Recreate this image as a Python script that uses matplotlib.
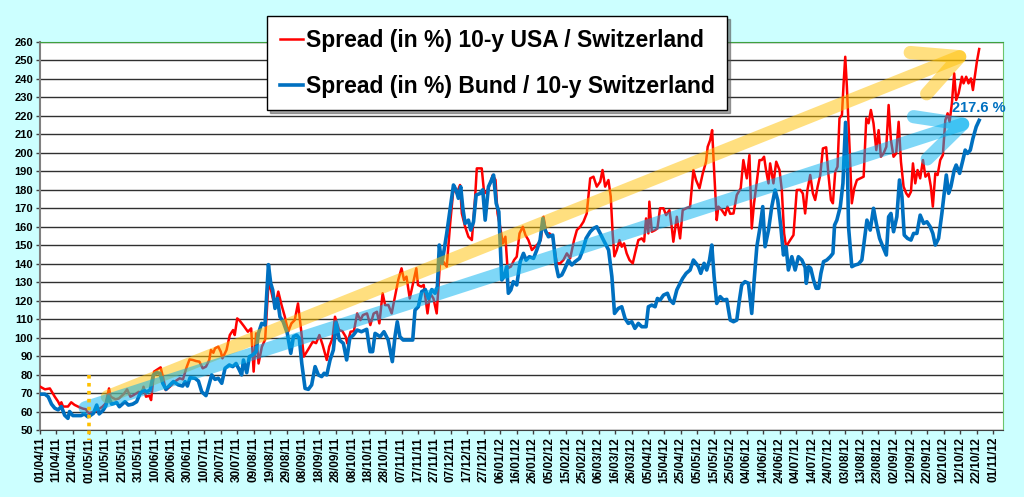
import pandas as pd
import matplotlib.pyplot as plt

plt.rcParams['font.family'] = ['Liberation Sans', 'DejaVu Sans']

# Données (jours depuis le 01/04/2011, spread en points de base)
start = pd.Timestamp('2011-04-01')

red_days = [0, 3, 6, 9, 11, 12, 13, 14, 17, 19, 21, 24, 26, 28, 29, 30, 34, 38, 40, 42,
            43, 46, 48, 51, 53, 55, 57, 60, 62, 63, 64.5, 66.5, 67.6, 69.4, 71, 73.4, 75, 76.5, 79, 82,
            85, 87, 89, 91, 93, 95, 97, 99, 101, 103, 104, 105.5, 106.5, 108.5, 110, 111, 113.5, 115.5, 117.5, 118.5,
            120, 121.5, 124, 126.5, 128.5, 130, 131.5, 133, 135, 137, 139, 140.5, 142, 143, 145, 147, 149, 151, 153, 155,
            157, 159, 160.5, 163, 166, 168, 170, 172, 174.5, 176, 178, 179.5, 182, 184, 186, 187, 189, 191, 193, 195,
            196.5, 199, 201, 203, 205, 206.5, 208.5, 210, 212, 214, 216, 218, 220, 221.5, 223, 225, 227, 229, 230, 232,
            233.5, 235.8, 237.4, 239.4, 241.4, 243.5, 245.5, 247.5, 249.6, 251.6, 253.6, 255.6, 256.7, 258.7, 260.7, 262.8, 264.8, 265.8, 268.8, 270.3,
            271.9, 274, 275.5, 277.2, 278.4, 280, 281.6, 283.2, 284.5, 286.5, 288.5, 290.1, 291.8, 293.8, 295.4, 297.2, 299.3, 301.3, 303.3, 304.7,
            306.4, 308, 310, 312, 314.5, 316.5, 318.5, 320.6, 322.6, 325, 326.7, 328.7, 330.7, 332.7, 334.8, 336.8, 338.8, 340.9, 342.3, 343.9,
            345.9, 347.3, 348.5, 349.5, 351, 352.6, 354, 355.4, 357, 358.7, 360.7, 362.1, 364.1, 366.2, 367.6, 368.8, 370.2, 370.8, 372.3, 374.3,
            375.7, 377.3, 379.4, 381, 383, 384.4, 385.4, 387.5, 389.5, 391.1, 393.2, 395.6, 397.6, 399.2, 401.3, 403.3, 405.3, 406.3, 407.8, 409,
            410.2, 411.8, 412.8, 414.9, 416.9, 418.3, 420, 422, 424, 426.4, 428, 430.1, 431.7, 433.1, 434.5, 436.2, 437.8, 439.2, 440.6, 441.8,
            443.3, 444.3, 446.3, 448, 450, 451.4, 452.8, 454, 456.5, 458.5, 460.5, 462.6, 464.2, 465.6, 467, 468.7, 470.3, 471.7, 473.2, 474.8,
            476.4, 478.4, 479.8, 481.3, 482.5, 483.9, 485.3, 486.5, 488, 489, 490, 491, 492.6, 494, 495.5, 497.1, 499.1, 501.2, 502.8, 504.2,
            505.6, 507.2, 508.9, 510.3, 511.7, 513.3, 515, 516.4, 517.8, 519.4, 521, 522.5, 523.9, 525.5, 527.1, 528.5, 530, 531.2, 532.6, 534,
            535.6, 537.3, 538.8, 540.7, 542.1, 543.3, 544.8, 546.2, 547.8, 549.4, 550.9, 552.3, 553.5, 554.9, 556.3, 557.5, 559, 561, 562, 563.6,
            565, 566.5, 567.7, 569.1, 570.1, 571.5]
red_vals = [73.5, 72, 72.5, 68, 65.4, 63.6, 65, 62.7, 62.7, 65, 63.6, 62.3, 61.6, 61.2, 59.6, 59, 60.3, 62.6, 64.4, 72.5,
            68, 66.6, 67.1, 69.5, 72, 68, 68.9, 70.7, 69.8, 73.4, 68, 68.6, 66.2, 81.6, 82.5, 83.9, 78, 71.6, 73.4, 76.2,
            78, 77.4, 83.4, 88.2, 87.9, 87.3, 87, 83.4, 84.3, 87.9, 93.3, 91.8, 94.2, 95.1, 92.4, 88.8, 93.3, 101.4, 104.1, 101.4,
            110.4, 109.2, 106.3, 103.2, 105, 81.6, 102.3, 86, 95, 99, 129, 126, 120, 116.7, 124.9, 117.6, 111.3, 103.2, 107.7, 109.5,
            118.5, 103.2, 89.7, 93.3, 97.8, 97, 101.4, 96, 87.9, 95.1, 99.6, 111.3, 104.1, 103.5, 100.5, 96.9, 103.2, 103.5, 113.1, 109.5,
            112.2, 113.1, 106.8, 113, 114, 107.7, 124, 117.6, 117.6, 113.1, 122.2, 131.2, 137.5, 131.2, 133, 121.2, 129.4, 137.5, 128.5, 127.6,
            128.5, 113.1, 124, 121.2, 113.1, 142, 141, 138.4, 161.8, 180.8, 178, 182.6, 167.2, 160, 154.6, 152.8, 176.3, 191.6, 191.6, 178,
            179, 183.5, 188, 185.3, 167.2, 160, 151, 154.6, 137.5, 138.4, 142, 143.8, 156.4, 160, 155.5, 152.8, 147.4, 149.2, 151, 152.8,
            165.4, 156.4, 156.4, 154.6, 140.2, 140.2, 142, 145.6, 142.9, 152.8, 158.2, 160, 162.7, 167.2, 186.2, 187.1, 181.7, 184.4, 190.7, 181.7,
            185.3, 176.3, 156, 144, 147.4, 152.8, 149.2, 151, 145.6, 142, 140.2, 145.6, 152.8, 153.7, 152, 164.5, 156.4, 173.6, 157.3, 158.2,
            159.1, 170, 170, 166.3, 169, 160, 151.9, 165.4, 153.7, 169, 170, 170.9, 190.7, 185.3, 180.8, 188.9, 195.2, 203.3, 206.9, 212.3,
            190.7, 163.6, 170.9, 169, 166.3, 170.9, 167, 167.2, 177.2, 180.8, 196.1, 186.2, 198.8, 159.1, 172.7, 184.4, 196.1, 196.1, 197.9, 190.7,
            183.5, 194.3, 183.5, 195.2, 190.7, 179.9, 156.4, 149.2, 152.8, 155.5, 179.9, 180, 178, 167.2, 179.9, 188, 178.1, 174.5, 181.7, 188,
            202.4, 203, 188, 174.5, 172.7, 189.8, 192.5, 218.7, 220.5, 237.6, 252, 235.8, 203.3, 172.7, 180.8, 185.3, 186.2, 187.1, 218.7, 216,
            223.2, 216, 201.5, 212.3, 197.9, 199.7, 203.3, 225.9, 206.9, 197.9, 199.7, 216.8, 195.2, 181.7, 178.1, 176.3, 179, 194.3, 183.5, 190.7,
            186.2, 196.1, 187.1, 188.9, 181.7, 170.9, 188.9, 188, 196.1, 198.8, 217.7, 221.4, 216.8, 226.8, 243, 228.6, 232.2, 241.2, 237.6, 241.2,
            237.6, 240.3, 234, 243, 249.3, 256.2]

blue_days = [0, 3, 5, 7, 9, 11, 13, 15, 17, 18, 20, 23, 25, 27, 29, 30, 32.5, 34.5, 36, 38.5,
             40, 41.6, 43.6, 46.7, 48.3, 51.7, 53.8, 56.4, 58.8, 60.9, 62.9, 64.9, 67, 69, 71, 73, 74.7, 76.7, 79.1, 81.2,
             84.2, 86.8, 88.3, 89.7, 91.3, 94.3, 96.4, 98.4, 101, 102.5, 104.5, 106.5, 108.5, 110.6, 112.6, 115.2, 117.3, 119.3, 121.3, 122.7,
             123.8, 125.8, 127.4, 129.4, 131.5, 132.9, 134.9, 136.9, 139, 140.4, 141.6, 143, 144.5, 146, 148, 150.5, 152.6, 154.2, 156.2, 157.8,
             159.3, 161.3, 163.3, 165.3, 167.4, 169.4, 171.4, 172.9, 174.5, 176.5, 178.5, 180.2, 182.2, 184.6, 186.6, 188.5, 190.7, 193, 195.6, 198.8,
             200.8, 202.4, 203.9, 207, 209.3, 211.9, 214.4, 216, 217.4, 219, 221, 224.1, 226.8, 228.2, 230.2, 232.3, 234.5, 236.4, 238.4, 240.4,
             241.8, 243, 244.5, 245.9, 247.5, 249.6, 251.6, 253.2, 254.6, 256, 257.3, 258.7, 260.7, 262.1, 263.8, 265.4, 267.8, 269.4, 270.9, 272.9,
             274.3, 276, 277.6, 279.2, 281, 282.4, 284, 285, 286.5, 288, 290.1, 292.2, 294.2, 295.8, 297.8, 300.3, 302.3, 304.3, 306, 307.4,
             309.4, 312, 314, 315.5, 317.5, 319, 321.6, 323.6, 325.6, 328.3, 330.3, 332.3, 334.8, 336.8, 338.8, 340.9, 342.9, 346, 348, 349.6,
             351.9, 354, 356, 358, 360.1, 362, 364.1, 366.2, 368.8, 370.2, 372.3, 374.3, 375.7, 377.3, 379.4, 381.8, 383.4, 385.4, 387.5, 389.5,
             391.1, 393.2, 395.6, 397.6, 399.2, 400.7, 402.1, 404.1, 405.7, 407.4, 408.8, 410.2, 411.8, 413.9, 415.9, 417.9, 420, 422, 424, 425.6,
             427, 429, 431.1, 433.1, 434.5, 436.2, 438.2, 439.8, 441.2, 443.3, 445.3, 447.3, 448.9, 450.8, 452.4, 454, 455.4, 457.5, 459.5, 461.5,
             463.6, 465.6, 466.3, 467.7, 469, 470.7, 472.3, 473.8, 475.2, 476.8, 478.8, 480.9, 482.5, 483.5, 484.9, 487, 488.6, 490.2, 491.4, 492,
             494, 496, 498, 500.1, 502.2, 503.2, 505.2, 507.2, 508.9, 510.9, 512.9, 515, 516.4, 517.8, 519.4, 521.4, 523, 524.5, 525.9, 527.9,
             530, 531.6, 533.6, 535.6, 537.7, 539.7, 541.7, 543.3, 544.8, 546.8, 548.8, 550.2, 551.5, 552.9, 554.3, 556.3, 557.5, 559.6, 561.6, 563,
             564.4, 566.1, 567.7, 569.7, 571.5]
blue_vals = [69.4, 69.4, 68, 64, 61.8, 60.9, 62.7, 58, 56.3, 60, 57.8, 57.8, 57.8, 58.7, 57.2, 57.5, 59, 63.5, 58.7, 60.8,
             63, 68, 64, 64.8, 62.6, 65.3, 63.5, 64, 65.3, 69.8, 71.6, 70.7, 71.6, 79.8, 81, 80.7, 75.3, 72, 74.4, 76.2,
             74.4, 73.8, 76.2, 73.8, 78.3, 78, 76.5, 70.7, 68.6, 73.4, 79.8, 77.4, 78, 75.3, 83.4, 85.2, 84.3, 86, 82.5, 79.8,
             87.9, 81, 89.7, 90.6, 92.4, 102.3, 107.7, 106.8, 139.5, 129.4, 125.8, 115.8, 121.2, 111.3, 108.6, 102.3, 91.5, 100.5, 101.4, 99.6,
             86, 72.5, 72, 74.4, 84.3, 79.8, 78.9, 80.7, 79.8, 87.9, 93.3, 108, 98.7, 96.9, 87.9, 99.6, 101.4, 104.1, 103.2, 104.5,
             92.4, 92.4, 102.3, 100.5, 103.2, 98.7, 87, 100.5, 108.6, 100.5, 98.7, 98.7, 98.7, 114.9, 116.7, 124.9, 126, 121.2, 126, 124,
             127.6, 150.1, 140.2, 147.4, 156.4, 170, 182.6, 179.9, 175.4, 181.7, 170, 161.8, 163.6, 158.2, 162.7, 177.2, 178, 180, 163.6, 181.7,
             184.4, 188, 172.7, 168.1, 131.2, 133, 138.4, 124, 125.8, 130.3, 128.5, 141.1, 145.6, 141.9, 143.8, 142.9, 147.4, 152.8, 164.5, 158.2,
             154.6, 155.5, 139.3, 133, 133.9, 136.6, 141.9, 139.3, 141.1, 142.9, 147.4, 153.7, 157.3, 159.1, 160, 156.4, 152.8, 147.4, 133, 113.1,
             115.8, 116.7, 110.4, 107.7, 108.6, 105, 107.7, 105.9, 105.9, 116.7, 117.6, 116.7, 121.2, 120.3, 123, 124, 120.3, 118.5, 125.8, 129.4,
             132.1, 134.8, 136.6, 142, 140.2, 138.4, 134.8, 140.2, 136.6, 142, 150.1, 133, 118.5, 122.2, 120.3, 120.7, 109.5, 108.6, 109.5, 120.3,
             128.5, 130.3, 129.4, 113.1, 130.3, 149.2, 160, 170.9, 149.2, 158.2, 170.9, 179.9, 174.5, 160, 144.7, 149.2, 136.6, 143.8, 136.6, 143.8,
             142, 138, 129.4, 138.4, 137.5, 131.2, 126.7, 126.7, 134.8, 141.1, 142, 143.8, 145.6, 160.9, 163.6, 170.9, 183.5, 216.5, 190, 160,
             138.4, 139.3, 139.8, 142, 156.4, 163.6, 158.2, 170, 161.8, 153.7, 149.2, 144.7, 165.4, 167.2, 157.3, 165.4, 185.3, 176.3, 155.5, 153.7,
             152.8, 156.4, 156.4, 166.3, 161.8, 162.7, 160, 156.4, 150.1, 153.7, 167.2, 178.1, 188, 178.1, 181.7, 190.7, 193.4, 188.9, 196.1, 201.5,
             199.7, 201.5, 207.8, 214.1, 217.6]

label_red = 'Spread (in %) 10-y USA / Switzerland'
label_blue = 'Spread (in %) Bund / 10-y Switzerland'
last_value_text = '217.6 %'

tick_dates = pd.date_range('2011-04-01', '2012-11-01', freq='10D')
y_ticks = list(range(50, 261, 10))

red_dates = start + pd.to_timedelta(red_days, unit='D')
blue_dates = start + pd.to_timedelta(blue_days, unit='D')

# Figure
fig = plt.figure(figsize=(10.24, 4.97), dpi=100, facecolor='#CCFFFF')
ax = fig.add_axes([40 / 1024, 1 - 430 / 497, 963 / 1024, 388 / 497])
ax.set_facecolor('white')

ax.plot(red_dates, red_vals, color='#FF0000', lw=1.8, label=label_red, zorder=3)
ax.plot(blue_dates, blue_vals, color='#0070C0', lw=2.6, label=label_blue, zorder=4)

# Flèches de tendance
arrow_style = '->, head_length=1.6, head_width=0.8'
ax.annotate('', xy=(start + pd.Timedelta(days=568), 255), xytext=(start + pd.Timedelta(days=41), 68),
            arrowprops=dict(arrowstyle=arrow_style, lw=9.5, color='#FFC000', alpha=0.5,
                            shrinkA=0, shrinkB=0, mutation_scale=20, capstyle='round', joinstyle='round'),
            zorder=6)
ax.annotate('', xy=(start + pd.Timedelta(days=570), 218), xytext=(start + pd.Timedelta(days=27.5), 62),
            arrowprops=dict(arrowstyle=arrow_style, lw=9.5, color='#00B0F0', alpha=0.5,
                            shrinkA=0, shrinkB=0, mutation_scale=20, capstyle='round', joinstyle='round'),
            zorder=6)

# Ligne pointillée au 01/05/2011
may1 = pd.Timestamp('2011-05-01')
ax.plot([may1, may1], [80, 44.5], color='#FFC000', lw=2.6, linestyle=(0, (1, 1.2)),
        clip_on=False, zorder=7)

ax.text(start + pd.Timedelta(days=555), 224.5, last_value_text, color='#0070C0', fontsize=10.5,
        fontweight='bold', ha='left', va='center', clip_on=False, zorder=8)

# Axes
ax.set_xlim(start, start + pd.Timedelta(days=586))
ax.set_ylim(50, 260)
ax.set_yticks(y_ticks)
ax.set_yticklabels([str(v) for v in y_ticks], fontsize=8, fontweight='bold')
ax.set_xticks(tick_dates)
ax.set_xticklabels([d.strftime('%d/%m/%y') for d in tick_dates], rotation=90,
                   fontsize=8.5, fontweight='bold')
ax.tick_params(axis='both', direction='out', length=3, width=1, color='#404040', pad=2)
ax.grid(axis='y', color='#303030', lw=1)
ax.set_axisbelow(True)

ax.spines['left'].set_color('#808080')
ax.spines['left'].set_linewidth(1.5)
ax.spines['bottom'].set_color('#404040')
ax.spines['top'].set_color('#3FA03F')
ax.spines['right'].set_color('#6CC46C')

leg = ax.legend(loc='upper left', bbox_to_anchor=(0.236, 1.067),
                prop={'weight': 'bold', 'size': 16.5}, frameon=True, fancybox=False,
                shadow=True, handlelength=1.0, handletextpad=0.13, labelspacing=1.0,
                borderpad=0.55, borderaxespad=0)
leg.get_frame().set_edgecolor('black')
leg.get_frame().set_linewidth(1)
leg.set_zorder(10)

fig.savefig('out.png', dpi=100, facecolor=fig.get_facecolor())
